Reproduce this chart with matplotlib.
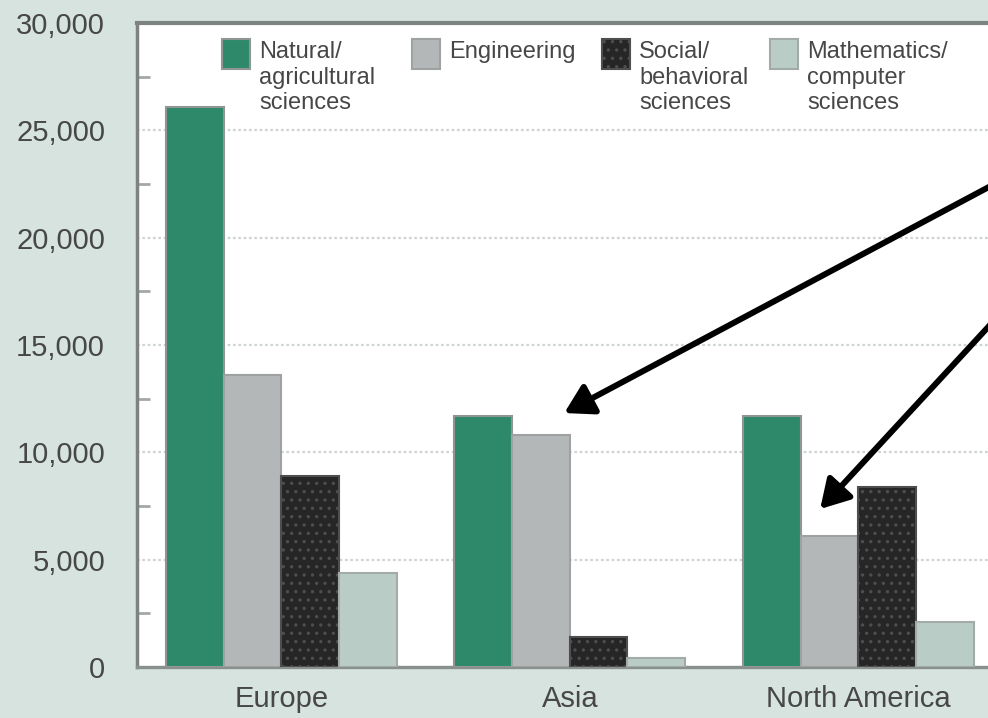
import numpy as np
import matplotlib
matplotlib.use("Agg")
import matplotlib.pyplot as plt
from matplotlib.patches import Rectangle
from matplotlib.ticker import MultipleLocator, FuncFormatter

plt.rcParams['font.family'] = ['Liberation Sans', 'DejaVu Sans']
plt.rcParams['hatch.linewidth'] = 1.2

# --- data (number of degrees by region and field) ---
regions = ['Europe', 'Asia', 'North America']
fields = ['Natural/\nagricultural\nsciences', 'Engineering',
          'Social/\nbehavioral\nsciences', 'Mathematics/\ncomputer\nsciences']
natural = [26100, 11700, 11700]
engineering = [13600, 10800, 6100]
social = [8900, 1400, 8400]
math_cs = [4400, 400, 2100]

# --- styles ---
colors = ['#2e896b', '#b4b7b8', '#262626', '#b9cdc6']
edges = ['#8f9693', '#9ea3a1', '#4e4e4e', '#a3aba8']
hatches = [None, None, '..', None]
bg = '#d6e3df'
frame = '#7d8380'
text_c = '#474747'

W, H = 988, 718
fig = plt.figure(figsize=(W / 100, H / 100), dpi=100, facecolor=bg)
ax = fig.add_axes([137 / W, 51 / H, 3 * 288.5 / W, 644 / H])
ax.set_facecolor('white')

x = np.arange(len(regions))
width = 0.2
series = [natural, engineering, social, math_cs]
for i, vals in enumerate(series):
    ax.bar(x + (i - 1.5) * width, vals, width, color=colors[i],
           edgecolor=edges[i], linewidth=1.5, hatch=hatches[i], zorder=3)

ax.set_xlim(-0.5, 2.5)
ax.set_ylim(0, 30000)

# --- y axis ---
ax.yaxis.set_major_locator(MultipleLocator(5000))
ax.yaxis.set_minor_locator(MultipleLocator(2500))
ax.yaxis.set_major_formatter(FuncFormatter(lambda v, p: f'{int(v):,}'))
ax.tick_params(axis='y', which='major', length=0, pad=23,
               labelsize=21, labelcolor=text_c)
ax.tick_params(axis='y', which='minor', direction='in', length=9,
               width=2, color='#a2a8a5')
ax.grid(axis='y', which='major', color='#cdd4d1', linewidth=1.6,
        linestyle=(0, (1.2, 1.2)), zorder=1)

# --- x axis ---
ax.set_xticks(x)
ax.set_xticklabels(regions, fontsize=21, color=text_c)
ax.tick_params(axis='x', length=0, pad=13)

for side in ['left', 'top', 'bottom']:
    ax.spines[side].set_color(frame)
ax.spines['left'].set_linewidth(2.5)
ax.spines['top'].set_linewidth(3)
ax.spines['bottom'].set_linewidth(2.4)
ax.spines['bottom'].set_color('#8a908d')
ax.spines['right'].set_visible(False)

# --- legend (patch on top, label lines below the first) ---
legend_x = [222, 412, 602, 770]
for i, lab in enumerate(fields):
    px = legend_x[i]
    fig.add_artist(Rectangle((px / W, 1 - 69 / H), 28 / W, 30 / H,
                             transform=fig.transFigure, facecolor=colors[i],
                             edgecolor=edges[i], linewidth=1.5, hatch=hatches[i]))
    fig.text((px + 37) / W, 1 - 41 / H, lab, fontsize=17, color=text_c,
             va='top', ha='left', linespacing=1.22)

# --- arrows pointing at the engineering bars ---
arrow = dict(arrowstyle='-|>,head_length=0.85,head_width=0.5',
             mutation_scale=20, lw=4.3, color='black', shrinkA=0, shrinkB=0)
ax.annotate('', xy=(0.981, 11830), xycoords='data',
            xytext=(1002, 538), textcoords='figure pixels',
            arrowprops=arrow, annotation_clip=False)
ax.annotate('', xy=(1.868, 7360), xycoords='data',
            xytext=(1002, 406), textcoords='figure pixels',
            arrowprops=arrow, annotation_clip=False)

plt.savefig('out.png', dpi=100, facecolor=bg)
plt.close()
